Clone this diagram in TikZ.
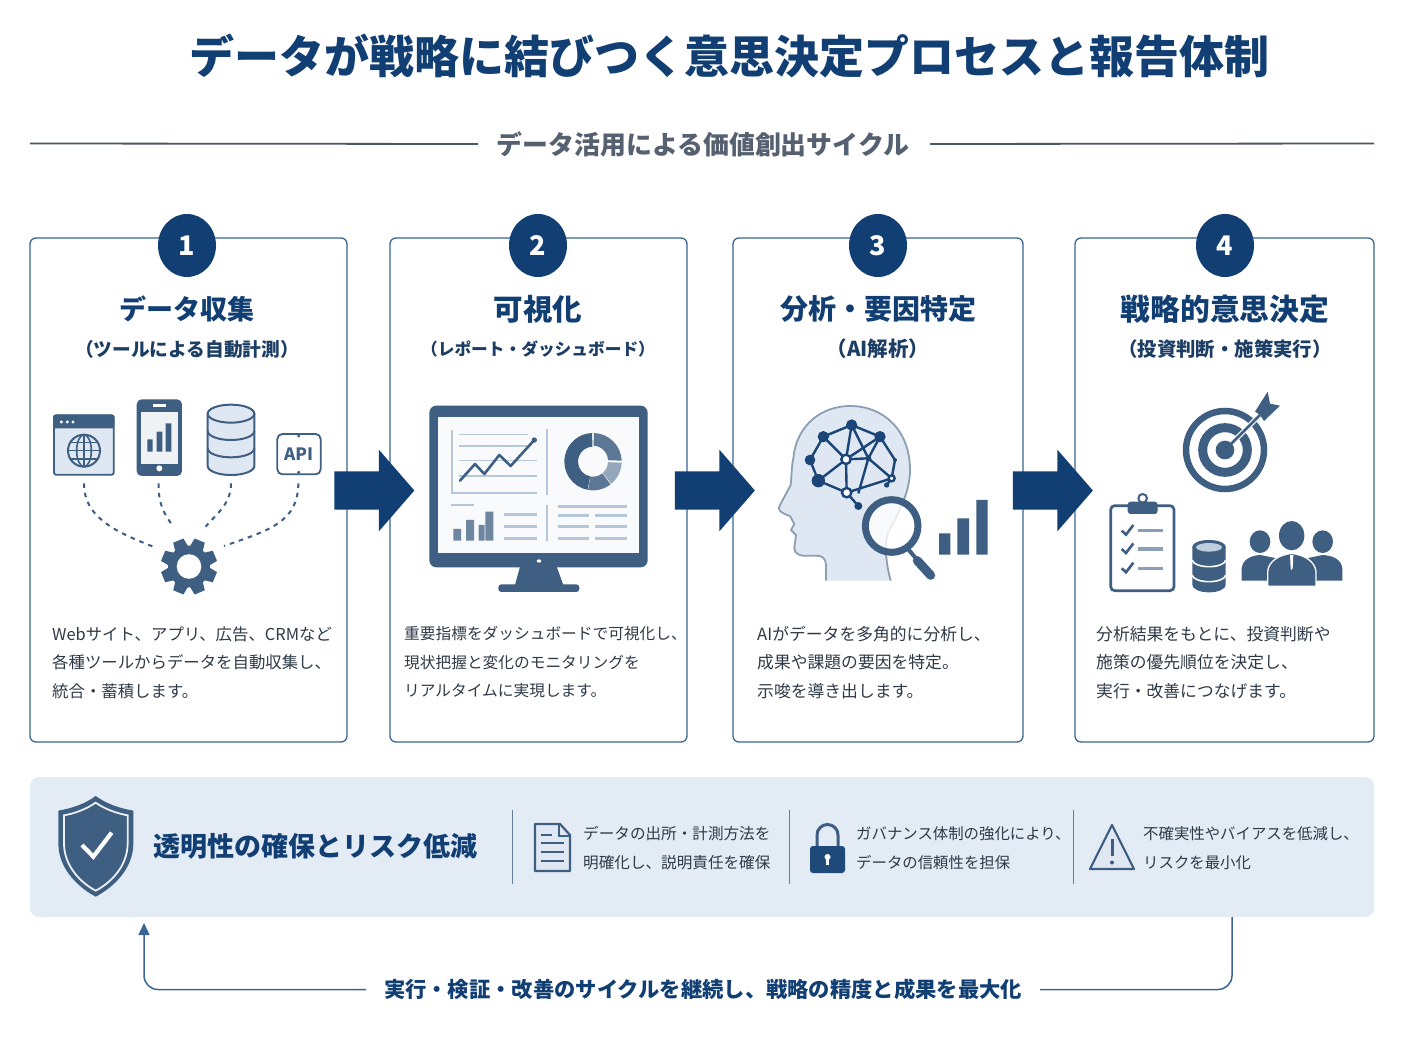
\documentclass[tikz,border=0pt]{standalone}
\usepackage{fontspec}
\setmainfont{Noto Sans CJK JP}
\newcommand\medfont{\bfseries}
\usetikzlibrary{arrows.meta,shapes.geometric,shapes.arrows}
\definecolor{navy}{HTML}{123F73}
\definecolor{icon}{HTML}{3E5F82}
\definecolor{pale}{HTML}{DFE8F2}
\definecolor{edgeblue}{HTML}{3A6595}
\definecolor{panelbg}{HTML}{E3EBF4}
\definecolor{bodytxt}{HTML}{2F3A47}
\definecolor{subgrey}{HTML}{556170}
\definecolor{soft}{HTML}{B5C6D8}
\newcommand\fsz[2]{\fontsize{#1}{#2}\selectfont}
\tikzset{
  cardbox/.style={draw=edgeblue,line width=1.3pt,fill=white,rounded corners=6pt,minimum height=504pt,inner sep=0pt},
  badge/.style={ellipse,fill=navy,text=white,minimum width=58pt,minimum height=63pt,inner sep=0pt,font=\fsz{27}{27}\bfseries},
  cardhead/.style={text=navy,inner sep=0pt},
  cardsub/.style={text=navy!65!bodytxt,inner sep=0pt},
  cardbody/.style={anchor=west,align=left,text=bodytxt,inner sep=0pt},
  bigarrow/.style={single arrow,fill=navy,minimum width=81pt,minimum height=80pt,single arrow head extend=21.5pt,single arrow tip angle=98,inner xsep=0pt,inner ysep=19pt},
  panelnote/.style={anchor=west,align=left,text=bodytxt,inner sep=0pt},
  sep/.style={draw=icon!80,line width=1pt},
  feed/.style={draw=icon,line width=2pt,dash pattern=on 4.5pt off 5pt},
  loopline/.style={draw=edgeblue,line width=1.5pt,rounded corners=14pt},
  softline/.style={draw=soft,line width=1.8pt},
  softbar/.style={draw=soft,line width=2.8pt},
}
\begin{document}
\begin{tikzpicture}[x=1pt,y=-1pt]
\useasboundingbox[fill=white] (0,0) rectangle (1408,1056);

% title
\node[text=navy,font=\fsz{45}{48}\bfseries,inner sep=0pt] (title) at (729,56) {データが戦略に結びつく意思決定プロセスと報告体制};
\node[text=subgrey,font=\fsz{25.9}{28}\medfont,inner sep=0pt] (subtitle) at (703,144) {データ活用による価値創出サイクル};
\coordinate (ruleL) at (30,143.5);
\coordinate (ruleR) at (1374,143.5);
\draw[draw=subgrey!90!black,line width=1.8pt] (ruleL) -- (subtitle.west -| 478,0);
\draw[draw=subgrey!90!black,line width=1.8pt] (ruleR) -- (subtitle.east -| 930,0);

% cards
\node[cardbox,minimum width=317pt] (card1) at (188.5,490) {};
\node[cardbox,minimum width=297pt] (card2) at (538.5,490) {};
\node[cardbox,minimum width=290pt] (card3) at (878,490) {};
\node[cardbox,minimum width=299pt] (card4) at (1224.5,490) {};
\node[badge] (b1) at (187,245.5) {1};
\node[badge] (b2) at (538,245.5) {2};
\node[badge] (b3) at (878,245.5) {3};
\node[badge] (b4) at (1225,245.5) {4};
\node[cardhead,font=\fsz{27}{30}\bfseries] (h1) at (187,309) {データ収集};
\node[cardhead,font=\fsz{29.5}{30}\bfseries] (h2) at (538,309) {可視化};
\node[cardhead,font=\fsz{28}{30}\bfseries] (h3) at (878,309) {分析・要因特定};
\node[cardhead,font=\fsz{29.8}{30}\bfseries] (h4) at (1225,309) {戦略的意思決定};
\node[cardsub,font=\fsz{18.7}{20}\medfont] (s1) at (187,349) {（ツールによる自動計測）};
\node[cardsub,font=\fsz{16.7}{20}\medfont] (s2) at (538,349) {（レポート・ダッシュボード）};
\node[cardsub,font=\fsz{20.5}{20}\medfont] (s3) at (878,349) {（AI解析）};
\node[cardsub,font=\fsz{19.4}{20}\medfont] (s4) at (1225,349) {（投資判断・施策実行）};
\node[cardbody,font=\fsz{16.4}{28.5}\selectfont] (t1) at (52,662.5) {Webサイト、アプリ、広告、CRMなど\\各種ツールからデータを自動収集し、\\統合・蓄積します。};
\node[cardbody,font=\fsz{15.7}{28.5}\selectfont] (t2) at (404,662.5) {重要指標をダッシュボードで可視化し、\\現状把握と変化のモニタリングを\\リアルタイムに実現します。};
\node[cardbody,font=\fsz{16.8}{28.5}\selectfont] (t3) at (757,662.5) {AIがデータを多角的に分析し、\\成果や課題の要因を特定。\\示唆を導き出します。};
\node[cardbody,font=\fsz{16.8}{28.5}\selectfont] (t4) at (1096,662.5) {分析結果をもとに、投資判断や\\施策の優先順位を決定し、\\実行・改善につなげます。};

% big arrows
\node[bigarrow] (a1) at (366,490.5) {};
\node[bigarrow] (a2) at (706.5,490.5) {};
\node[bigarrow] (a3) at (1044.5,490.5) {};

% --- icons card 1 (crop coords)
\begin{scope}[shift={(30,380)},scale=0.33333]
  % browser
  \draw[draw=icon,fill=pale,line width=1.8pt,rounded corners=2pt] (72,106) rectangle (251,284);
  \fill[icon,rounded corners=2pt] (70,104) rectangle (253,145);
  \foreach \x in {94,112,129} \fill[white] (\x,126) circle[radius=5];
  \draw[icon,line width=2pt] (162,212) circle[radius=48];
  \draw[icon,line width=1.6pt] (162,212) ellipse[x radius=22,y radius=48];
  \draw[icon,line width=1.6pt] (162,164) -- (162,260) (114,212) -- (210,212) (121,187) -- (203,187) (121,237) -- (203,237);
  % phone
  \fill[icon,rounded corners=5pt] (320,58) rectangle (456,288);
  \fill[white!92!icon] (333,95) rectangle (443,252);
  \fill[white] (370,73) rectangle (407,80);
  \fill[white] (388,265) circle[radius=9];
  \fill[icon] (352,178) rectangle (368,215) (380,155) rectangle (397,215) (407,130) rectangle (424,215);
  % database
  \draw[icon,fill=pale,line width=2pt] (533,101) -- (533,258) arc[start angle=180,end angle=0,x radius=70,y radius=27] -- (673,101);
  \fill[pale] (603,101) ellipse[x radius=70,y radius=27];
  \draw[icon,line width=2pt] (603,101) ellipse[x radius=70,y radius=27];
  \draw[icon,line width=2pt] (533,153) arc[start angle=180,end angle=0,x radius=70,y radius=27];
  \draw[icon,line width=2pt] (533,205) arc[start angle=180,end angle=0,x radius=70,y radius=27];
  % api
  \draw[icon,line width=1.8pt,rounded corners=5pt,fill=white] (742,162) rectangle (872,283);
  \fill[icon] (806,168) circle[radius=5] (806,277) circle[radius=5];
  \node[text=icon,font=\fsz{17}{17}\bfseries,inner sep=0pt] (apitxt) at (806,224) {API};
  % coordinates
  \coordinate (webout) at (162,310);
  \coordinate (phoneout) at (386,310);
  \coordinate (dbout) at (603,310);
  \coordinate (apiout) at (805,310);
  \coordinate (gearA) at (370,500);
  \coordinate (gearB) at (430,440);
  \coordinate (gearC) at (527,440);
  \coordinate (gearD) at (582,498);
\end{scope}
\draw[feed] (webout) .. controls (84,515) and (110,530) .. (gearA);
\draw[feed] (phoneout) .. controls (158,505) and (165,515) .. (gearB);
\draw[feed] (dbout) .. controls (231,505) and (215,515) .. (gearC);
\draw[feed] (apiout) .. controls (298,522) and (270,530) .. (gearD);
% gear
\begin{scope}[shift={(189,566.5)}]
  \foreach \a in {0,45,...,315}
    \fill[icon,rotate=\a+22.5] (-5.5,-28) -- (5.5,-28) -- (7.5,-15) -- (-7.5,-15) -- cycle;
  \fill[icon] (0,0) circle[radius=21];
  \fill[white] (0,0) circle[radius=12.3];
\end{scope}

% --- monitor
\begin{scope}[shift={(400,390)},scale=0.33333]
  \fill[icon] (360,530) -- (470,530) -- (490,585) -- (345,585) -- cycle;
  \fill[icon,rounded corners=3pt] (295,583) rectangle (538,606);
  \fill[icon,rounded corners=7pt] (88,47) rectangle (743,532);
  \fill[white!97!icon] (115,80) rectangle (716,488);
  \fill[white] (417,513) ellipse[x radius=7,y radius=5];
  \draw[softline] (155,120) -- (155,310) -- (410,310);
  \foreach \y/\xe in {133/385,168/385,212/410,258/410}
    \draw[softline,line width=1.6pt] (178,\y) -- (\xe,\y);
  \draw[icon,line width=2.6pt,line join=round,line cap=round] (180,272) -- (225,222) -- (253,252) -- (298,195) -- (332,228) -- (403,150);
  \fill[icon] (403,150) circle[radius=8];
  \draw[softline] (441,118) -- (441,315) (441,345) -- (441,452) (152,345) -- (222,345);
  % donut
  \fill[icon!85!white] (579,215) ++(-88:86) arc[start angle=-88,end angle=-2,radius=86] -- ++(182:41) arc[start angle=-2,end angle=-88,radius=45] -- cycle;
  \fill[icon!55!white] (579,215) ++(2:86) arc[start angle=2,end angle=50,radius=86] -- ++(230:41) arc[start angle=50,end angle=2,radius=45] -- cycle;
  \fill[icon!85!white] (579,215) ++(52:86) arc[start angle=52,end angle=100,radius=86] -- ++(280:41) arc[start angle=100,end angle=52,radius=45] -- cycle;
  \fill[icon] (579,215) ++(101:86) arc[start angle=101,end angle=268,radius=86] -- ++(88:41) arc[start angle=268,end angle=101,radius=45] -- cycle;
  % bars
  \fill[icon!75!white] (160,417) rectangle (183,452) (198,390) rectangle (222,452) (236,405) rectangle (254,452) (256,365) rectangle (280,452);
  \foreach \y in {373,410,445} \draw[softbar] (312,\y) -- (410,\y);
  \draw[softbar] (474,350) -- (680,350);
  \foreach \y in {377,410,445} \draw[softbar] (474,\y) -- (566,\y) (586,\y) -- (680,\y);
\end{scope}

% --- head
\begin{scope}[shift={(760,390)},scale=0.33333]
  \draw[draw=icon!60!white,fill=pale,line width=1.8pt,line join=round]
    (198,572) -- (198,525) .. controls (198,505) and (185,497) .. (170,497) -- (130,497)
    .. controls (105,495) and (100,480) .. (104,465) -- (108,435) -- (93,420) -- (103,402) -- (90,378)
    .. controls (60,368) and (50,358) .. (60,345) -- (92,285)
    .. controls (95,255) and (95,225) .. (100,205)
    .. controls (110,100) and (190,48) .. (270,48)
    .. controls (370,48) and (450,120) .. (450,240)
    .. controls (450,310) and (410,380) .. (385,425)
    .. controls (372,465) and (378,520) .. (392,572);
  \draw[navy!80!icon,line width=2.4pt,line join=round]
    (190,140) -- (275,105) -- (360,140) -- (405,210) -- (395,265) -- (380,285)
    (190,140) -- (150,210) -- (175,272) -- (260,308) -- (295,348)
    (175,272) -- (258,208) -- (190,140)
    (258,208) -- (360,140) (275,105) -- (258,208)
    (258,208) -- (260,308) (275,105) -- (325,205) -- (395,265)
    (360,140) -- (325,205) -- (295,310) (260,308) -- (395,265) (258,208) -- (325,205);
  \foreach \x/\y/\r in {190/140/17,275/105/17,360/140/17,150/210/16,175/272/20,325/205/9,405/210/6,380/285/8,295/348/12}
    \fill[navy!80!icon] (\x,\y) circle[radius=\r];
  \foreach \x/\y/\r in {258/208/14,260/308/14,395/265/9}
    \draw[navy!80!icon,line width=2.4pt,fill=white] (\x,\y) circle[radius=\r];
  % magnifier
  \draw[icon,line width=4pt] (445,478) -- (470,508);
  \draw[icon,line width=9pt,line cap=round] (472,512) -- (512,556);
  \fill[white,fill opacity=.8] (395,408) circle[radius=79];
  \draw[icon,line width=7pt] (395,408) circle[radius=79];
  \fill[icon] (537,430) rectangle (571,494) (592,385) rectangle (627,494) (649,330) rectangle (683,494);
\end{scope}

% --- card 4 icons
\begin{scope}[shift={(1090,385)},scale=0.33333]
  % target
  \draw[icon,line width=6.5pt] (405,195) circle[radius=117];
  \draw[icon,line width=9pt] (405,195) circle[radius=67];
  \fill[icon] (405,195) circle[radius=28];
  \draw[white,line width=5pt] (425,175) -- (510,90);
  \draw[icon,line width=2.8pt] (410,190) -- (510,90);
  \fill[icon] (495,80) -- (533,20) -- (540,56) -- (570,62) -- (522,108) -- (510,90) -- cycle;
  % clipboard
  \draw[icon,line width=2.7pt,rounded corners=4pt,fill=white] (62,362) rectangle (252,617);
  \draw[icon,line width=2pt] (158,340) circle[radius=13];
  \fill[icon,rounded corners=3pt] (113,350) rectangle (203,387);
  \foreach \y in {437,492,550}{
    \draw[icon,line width=2.6pt] (95,\y) -- (108,\y+12) -- (130,\y-17);
    \draw[icon!60!white,line width=3.5pt] (145,\y) -- (220,\y);
  }
  % db
  \fill[icon] (307,485) -- (307,600) arc[start angle=180,end angle=0,x radius=50,y radius=22] -- (407,485) -- cycle;
  \fill[icon] (357,485) ellipse[x radius=50,y radius=20];
  \fill[pale!80!icon] (357,487) ellipse[x radius=39,y radius=13];
  \draw[white,line width=1.6pt] (307,525) arc[start angle=180,end angle=0,x radius=50,y radius=20];
  \draw[white,line width=1.6pt] (307,570) arc[start angle=180,end angle=0,x radius=50,y radius=20];
  % people
  \fill[icon] (510,470) ellipse[x radius=31,y radius=34];
  \fill[icon] (698,470) ellipse[x radius=31,y radius=34];
  \fill[icon] (455,587) -- (455,550) .. controls (458,525) and (480,512) .. (510,510) -- (560,520) -- (560,587) -- cycle;
  \fill[icon] (757,587) -- (757,550) .. controls (754,525) and (732,512) .. (698,510) -- (650,520) -- (650,587) -- cycle;
  \fill[icon] (605,452) ellipse[x radius=38,y radius=44];
  \draw[white,line width=1.3pt,fill=icon] (533,604) -- (533,560) .. controls (535,530) and (565,510) .. (605,505) .. controls (645,510) and (675,530) .. (678,560) -- (678,604) -- cycle;
  \fill[white] (600,510) -- (610,510) -- (608,550) -- (605,555) -- (602,550) -- cycle;
\end{scope}

% --- panel
\node[fill=panelbg,rounded corners=9pt,minimum width=1344pt,minimum height=140pt,inner sep=0pt] (panel) at (702,847) {};
\begin{scope}[shift={(30,780)},scale=0.33333]
  \fill[icon] (197,48) .. controls (165,72) and (125,85) .. (85,92) -- (85,190) .. controls (85,270) and (150,325) .. (197,350)
    .. controls (245,325) and (310,270) .. (310,190) -- (310,92) .. controls (270,85) and (230,72) .. (197,48) -- cycle;
  \draw[white!90!icon,line width=1.8pt] (197,68) .. controls (168,88) and (135,100) .. (102,106) -- (102,190) .. controls (102,260) and (155,310) .. (197,332)
    .. controls (240,310) and (293,260) .. (293,190) -- (293,106) .. controls (260,100) and (226,88) .. (197,68) -- cycle;
  \draw[white,line width=4.2pt] (156,195) -- (190,230) -- (245,158);
\end{scope}
\node[anchor=west,text=navy,font=\fsz{27}{30}\bfseries,inner sep=0pt] (ptitle) at (153,846) {透明性の確保とリスク低減};
\coordinate (sepA) at (512,810);\coordinate (sepAb) at (512,884);
\coordinate (sepB) at (789,810);\coordinate (sepBb) at (789,884);
\coordinate (sepC) at (1073,810);\coordinate (sepCb) at (1073,884);
\draw[sep] (sepA) -- (sepAb);
\draw[sep] (sepB) -- (sepBb);
\draw[sep] (sepC) -- (sepCb);
% document
\begin{scope}
  \draw[icon,line width=2.2pt,line join=round,fill=pale] (535,824) -- (560,824) -- (570,835) -- (570,871) -- (535,871) -- cycle;
  \draw[icon,line width=1.6pt] (559,824) -- (559,836) -- (570,836);
  \draw[icon,line width=2.2pt] (541,835) -- (552,835) (541,843) -- (564,843) (541,852) -- (564,852) (541,861) -- (564,861);
\end{scope}
% lock
\draw[icon,line width=3pt] (817,848) -- (817,835) arc[start angle=180,end angle=360,radius=10.5] -- (838,848);
\fill[navy!70!icon,rounded corners=3pt] (810,846) rectangle (845,873);
\fill[white] (827.5,857) circle[radius=3];
\fill[white] (826,858) rectangle (829,865);
% warning
\draw[icon,line width=2.2pt,line join=round,fill=pale] (1112,825) -- (1134,869) -- (1090,869) -- cycle;
\draw[icon,line width=3pt] (1112,839) -- (1112,856);
\fill[icon] (1112,862.5) circle[radius=2];
\node[panelnote,font=\fsz{15.6}{29}\selectfont] (n1) at (583,848.5) {データの出所・計測方法を\\明確化し、説明責任を確保};
\node[panelnote,font=\fsz{15.4}{29}\selectfont] (n2) at (856,848.5) {ガバナンス体制の強化により、\\データの信頼性を担保};
\node[panelnote,font=\fsz{15.4}{29}\selectfont] (n3) at (1143,848.5) {不確実性やバイアスを低減し、\\リスクを最小化};

% --- loop
\node[text=navy,font=\fsz{21.3}{24}\bfseries,inner sep=0pt] (loop) at (703,989.5) {実行・検証・改善のサイクルを継続し、戦略の精度と成果を最大化};
\coordinate (loopstart) at (1232,917);
\coordinate (loopend) at (144,923);
\coordinate (loopR) at (1040,989.5);
\coordinate (loopL) at (366,989.5);
\draw[loopline] (loopstart) |- (loopR);
\draw[loopline,-{Triangle[length=12pt,width=11pt]}] (loopL) -| (loopend);
\end{tikzpicture}
\end{document}
